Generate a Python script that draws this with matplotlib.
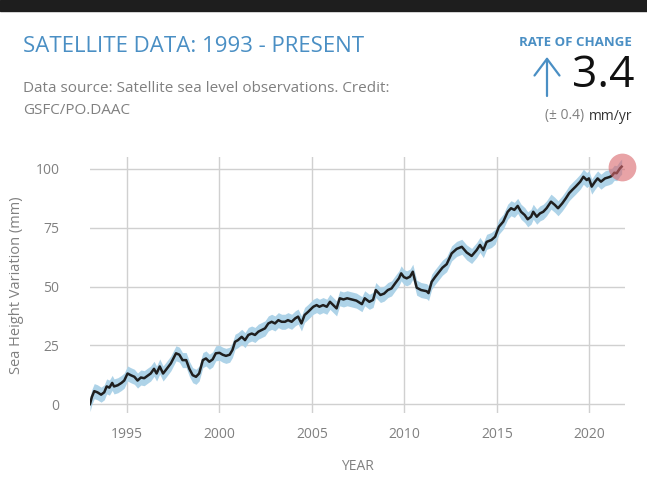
import numpy as np
import matplotlib
matplotlib.use('Agg')
import matplotlib.pyplot as plt
from matplotlib.patches import Rectangle, FancyArrowPatch

# Leituras aproximadas da curva (ano, variação em mm)
years = [1993.00, 1993.10, 1993.23, 1993.40, 1993.60, 1993.77, 1993.90, 1994.05, 1994.20, 1994.30,
         1994.50, 1994.70, 1994.85, 1995.03, 1995.20, 1995.40, 1995.57, 1995.75, 1995.93, 1996.10,
         1996.28, 1996.46, 1996.60, 1996.77, 1996.95, 1997.10, 1997.37, 1997.65, 1997.83, 1998.00,
         1998.20, 1998.37, 1998.55, 1998.73, 1998.90, 1999.10, 1999.27, 1999.45, 1999.63, 1999.80,
         2000.00, 2000.17, 2000.35, 2000.55, 2000.70, 2000.84, 2001.00, 2001.20, 2001.38, 2001.56,
         2001.74, 2001.92, 2002.10, 2002.28, 2002.46, 2002.64, 2002.82, 2003.00, 2003.18, 2003.36,
         2003.54, 2003.70, 2003.90, 2004.10, 2004.25, 2004.43, 2004.60, 2004.80, 2005.07, 2005.25,
         2005.40, 2005.60, 2005.80, 2005.97, 2006.15, 2006.33, 2006.50, 2006.70, 2006.90, 2007.15,
         2007.40, 2007.70, 2007.85, 2008.10, 2008.30, 2008.45, 2008.70, 2008.90, 2009.10, 2009.30,
         2009.50, 2009.70, 2009.82, 2009.97, 2010.12, 2010.30, 2010.45, 2010.55, 2010.66, 2010.90,
         2011.20, 2011.30, 2011.47, 2011.65, 2011.85, 2012.05, 2012.28, 2012.55, 2012.82, 2013.10,
         2013.36, 2013.63, 2013.90, 2014.08, 2014.26, 2014.44, 2014.70, 2014.90, 2015.10, 2015.34,
         2015.58, 2015.76, 2015.94, 2016.12, 2016.30, 2016.50, 2016.66, 2016.84, 2016.96, 2017.15,
         2017.32, 2017.50, 2017.68, 2017.92, 2018.13, 2018.30, 2018.53, 2018.72, 2018.90, 2019.07,
         2019.25, 2019.50, 2019.67, 2019.85, 2019.97, 2020.12, 2020.30, 2020.44, 2020.62, 2020.84,
         2021.05, 2021.20, 2021.34, 2021.47, 2021.65, 2021.74]
sea_level = [0, 3, 5.5, 5, 4, 5, 7.5, 7, 9, 7.5,
             8, 9, 10, 13, 12.3, 11.6, 10, 11.3, 11, 12,
             13, 15, 13, 16, 13, 14.5, 17.3, 21.6, 21, 18.7,
             18.7, 15, 12.3, 11.6, 13, 18.7, 19.4, 18, 19, 21.6,
             21.8, 21, 20.5, 21, 23, 26.5, 27.2, 28.6, 27.2, 29.4,
             30, 29.4, 30.8, 31.5, 32.2, 34.3, 35, 34.3, 35.7, 35,
             35, 35.7, 35, 36.5, 37.2, 34.3, 37.9, 39.3, 41.4, 42.1,
             41.4, 42.1, 41.4, 43.5, 42.1, 40.7, 45, 44.5, 45, 44.5,
             44, 42.5, 45, 43.5, 44.3, 48.5, 46.4, 47, 48.5, 49.2,
             51.4, 53.5, 55.6, 54, 53.5, 54.2, 56.3, 53, 49.5, 48.5,
             48, 47.2, 52, 54, 56, 58, 59.5, 64.1, 66, 66.9,
             64.5, 63, 65.5, 67.7, 65.5, 69, 69.8, 71.2, 75.4, 77.6,
             81.8, 83.3, 82.6, 84.3, 81.8, 80.4, 78.6, 79.7, 81.8, 79.7,
             81.1, 81.8, 83.3, 86.1, 84.7, 83.3, 85.4, 87.5, 89.7, 91.1,
             92.5, 94.6, 96.7, 95.3, 96, 92.5, 94.6, 96, 94.6, 96,
             96.5, 97, 98.4, 98.2, 100.3, 101]
uncertainty = 3.2  # mm, largura aproximada da faixa azul

x_ticks = [1995, 2000, 2005, 2010, 2015, 2020]
y_ticks = [0, 25, 50, 75, 100]

blue = '#4a8fc4'
gray = '#808080'

plt.rcParams['font.family'] = ['Open Sans', 'DejaVu Sans']

fig = plt.figure(figsize=(6.47, 4.82), dpi=100)

# barra escura no topo
fig.patches.append(Rectangle((0, 1 - 11 / 482), 1, 11 / 482, transform=fig.transFigure,
                             color='#1e1e1e', zorder=0))

ax = fig.add_axes([90 / 647, 1 - 413 / 482, 535 / 647, 256 / 482])

y = np.array(sea_level)
ax.fill_between(years, y - uncertainty, y + uncertainty, color='#aed3e8', lw=0, zorder=2)
ax.plot(years, y, color='#1f1f1f', lw=1.8, zorder=3)

# marcador do último valor
ax.scatter([years[-1]], [sea_level[-1]], s=400, color='#d9666b', alpha=0.6, lw=0, zorder=4,
           clip_on=False)

ax.set_xlim(1993.0, 2021.92)
ax.set_ylim(-3.8, 105.1)
ax.set_xticks(x_ticks)
ax.set_yticks(y_ticks)
ax.grid(True, color='#d0d0d0', lw=1)
ax.set_axisbelow(True)
for s in ax.spines.values():
    s.set_visible(False)
ax.tick_params(length=0, labelsize=10, colors=gray, pad=10)
ax.tick_params(axis='y', pad=22)

ax.set_xlabel('YEAR', fontsize=10, color=gray, labelpad=12)
ax.set_ylabel('Sea Height Variation (mm)', fontsize=10.5, color=gray, labelpad=8)

# cabeçalho
fig.text(23 / 647, 1 - 47 / 482, 'SATELLITE DATA: 1993 - PRESENT', fontsize=16, color=blue,
         va='center', ha='left')
fig.text(23 / 647, 1 - 89 / 482, 'Data source: Satellite sea level observations. Credit:',
         fontsize=11, color=gray, va='center', ha='left')
fig.text(23 / 647, 1 - 110 / 482, 'GSFC/PO.DAAC', fontsize=11, color=gray, va='center', ha='left')

fig.text(632 / 647, 1 - 42 / 482, 'RATE OF CHANGE', fontsize=9.5, color=blue, weight='bold',
         va='center', ha='right')
fig.text(634 / 647, 1 - 76 / 482, '3.4', fontsize=32, color='#111111', va='center', ha='right')
# seta fina para cima
fig.add_artist(FancyArrowPatch((547 / 647, 1 - 96 / 482), (547 / 647, 1 - 57 / 482),
                               transform=fig.transFigure, arrowstyle='->, head_width=0.45, head_length=0.6',
                               mutation_scale=20, color=blue, lw=1.6, shrinkA=0, shrinkB=0))
fig.text(632 / 647, 1 - 116 / 482, 'mm/yr', fontsize=10, color='#333333', va='center', ha='right')
fig.text(584 / 647, 1 - 116 / 482, '(± 0.4)', fontsize=10, color=gray, va='center', ha='right')

fig.savefig('out.png', dpi=100)
